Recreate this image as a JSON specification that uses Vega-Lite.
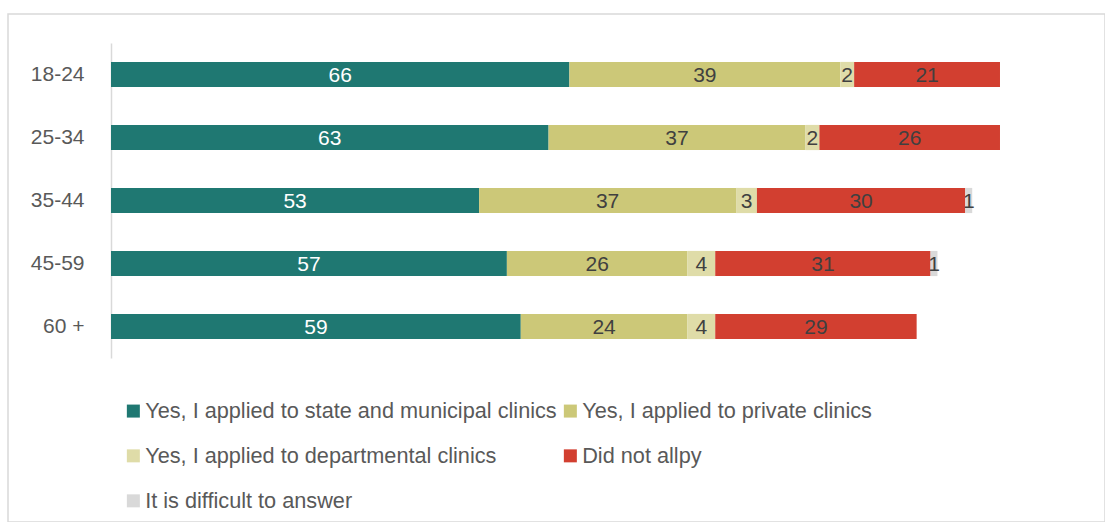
{
  "$schema": "https://vega.github.io/schema/vega-lite/v6.json",
  "width": 1097,
  "height": 508,
  "autosize": {"type": "none"},
  "padding": {"left": 8, "top": 14, "right": 0, "bottom": 0},
  "background": "white",
  "config": {
    "view": {"stroke": "#D9D9D9", "strokeWidth": 1.5},
    "font": "Liberation Sans"
  },
  "data": {
    "values": [
      {"age": "18-24", "answer": "Yes, I applied to state and municipal clinics", "k": 0, "value": 66},
      {"age": "18-24", "answer": "Yes, I applied to private clinics", "k": 1, "value": 39},
      {"age": "18-24", "answer": "Yes, I applied to departmental clinics", "k": 2, "value": 2},
      {"age": "18-24", "answer": "Did not allpy", "k": 3, "value": 21},
      {"age": "25-34", "answer": "Yes, I applied to state and municipal clinics", "k": 0, "value": 63},
      {"age": "25-34", "answer": "Yes, I applied to private clinics", "k": 1, "value": 37},
      {"age": "25-34", "answer": "Yes, I applied to departmental clinics", "k": 2, "value": 2},
      {"age": "25-34", "answer": "Did not allpy", "k": 3, "value": 26},
      {"age": "35-44", "answer": "Yes, I applied to state and municipal clinics", "k": 0, "value": 53},
      {"age": "35-44", "answer": "Yes, I applied to private clinics", "k": 1, "value": 37},
      {"age": "35-44", "answer": "Yes, I applied to departmental clinics", "k": 2, "value": 3},
      {"age": "35-44", "answer": "Did not allpy", "k": 3, "value": 30},
      {"age": "35-44", "answer": "It is difficult to answer", "k": 4, "value": 1},
      {"age": "45-59", "answer": "Yes, I applied to state and municipal clinics", "k": 0, "value": 57},
      {"age": "45-59", "answer": "Yes, I applied to private clinics", "k": 1, "value": 26},
      {"age": "45-59", "answer": "Yes, I applied to departmental clinics", "k": 2, "value": 4},
      {"age": "45-59", "answer": "Did not allpy", "k": 3, "value": 31},
      {"age": "45-59", "answer": "It is difficult to answer", "k": 4, "value": 1},
      {"age": "60 +", "answer": "Yes, I applied to state and municipal clinics", "k": 0, "value": 59},
      {"age": "60 +", "answer": "Yes, I applied to private clinics", "k": 1, "value": 24},
      {"age": "60 +", "answer": "Yes, I applied to departmental clinics", "k": 2, "value": 4},
      {"age": "60 +", "answer": "Did not allpy", "k": 3, "value": 29}
    ]
  },
  "transform": [
    {"stack": "value", "groupby": ["age"], "sort": [{"field": "k", "order": "ascending"}], "as": ["v0", "v1"]},
    {"calculate": "(datum.v0 + datum.v1) / 2", "as": "mid"}
  ],
  "encoding": {
    "y": {
      "field": "age",
      "type": "nominal",
      "sort": ["18-24", "25-34", "35-44", "45-59", "60 +"],
      "scale": {"range": [29, 344], "paddingInner": 0.6, "paddingOuter": 0.3},
      "axis": {
        "title": null,
        "offset": -103,
        "ticks": false,
        "domainColor": "#D9D9D9",
        "domainWidth": 1.5,
        "labelColor": "#595959",
        "labelFontSize": 21,
        "labelPadding": 27
      }
    }
  },
  "layer": [
    {
      "mark": {"type": "bar"},
      "encoding": {
        "x": {
          "field": "v0",
          "type": "quantitative",
          "scale": {"domain": [-14.831, 143.12], "nice": false, "zero": false},
          "axis": null
        },
        "x2": {"field": "v1"},
        "color": {
          "field": "answer",
          "type": "nominal",
          "scale": {
            "domain": [
              "Yes, I applied to state and municipal clinics",
              "Yes, I applied to private clinics",
              "Yes, I applied to departmental clinics",
              "Did not allpy",
              "It is difficult to answer"
            ],
            "range": ["#1F7872", "#CCC878", "#DFDCA8", "#D23F30", "#D9D9D9"]
          },
          "legend": {
            "title": null,
            "orient": "none",
            "legendX": 114.5,
            "legendY": 386,
            "direction": "horizontal",
            "columns": 2,
            "columnPadding": 2,
            "rowPadding": 22,
            "symbolType": "square",
            "symbolSize": 169,
            "symbolStrokeWidth": 0,
            "labelFontSize": 21.7,
            "labelColor": "#595959",
            "labelOffset": 1,
            "labelLimit": 700,
            "padding": 0
          }
        }
      }
    },
    {
      "mark": {"type": "text", "fontSize": 21, "baseline": "middle", "dy": 1},
      "encoding": {
        "x": {"field": "mid", "type": "quantitative"},
        "text": {"field": "value", "type": "quantitative"},
        "color": {
          "condition": {"test": "datum.k == 0", "value": "#FFFFFF"},
          "value": "#404040"
        }
      }
    }
  ]
}
